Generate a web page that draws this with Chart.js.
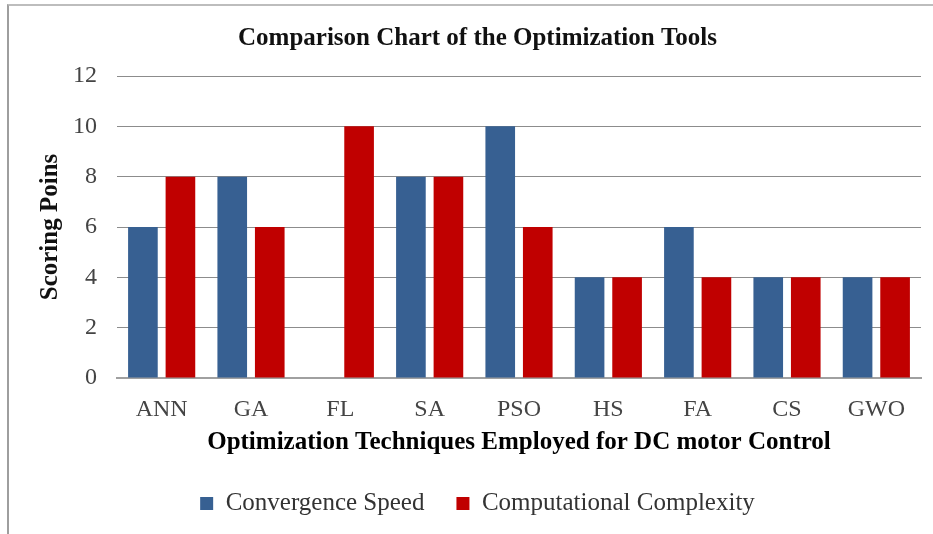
<!DOCTYPE html>
<html lang="en">
<head>
  <meta charset="UTF-8">
  <title>Comparison Chart of the Optimization Tools</title>
  <script src="https://cdn.jsdelivr.net/npm/chart.js"></script>
  <style>
    body {
      margin: 0;
      background: #FFFFFF;
    }

    .frame {
      position: absolute;
      left: 7px;
      top: 4px;
      width: 926px;
      height: 530px;
      border-top: 2px solid #BDBDBD;
      border-left: 2px solid #9E9E9E;
    }

    .chart-box {
      position: absolute;
      left: 0;
      top: 0;
      width: 933px;
      height: 534px;
    }
  </style>
</head>
<body>
  <div class="frame"></div>
  <div class="chart-box"><canvas id="chart"></canvas></div>

  <script>
    const categories = ['ANN', 'GA', 'FL', 'SA', 'PSO', 'HS', 'FA', 'CS', 'GWO'];
    const convergenceSpeed = [6, 8, 0, 8, 10, 4, 6, 4, 4];
    const computationalComplexity = [8, 6, 10, 8, 6, 4, 4, 4, 4];
    const yTicks = [0, 2, 4, 6, 8, 10, 12];

    const serif = "'Liberation Serif', 'Times New Roman', serif";

    new Chart(document.getElementById('chart'), {
      type: 'bar',
      data: {
        labels: categories,
        datasets: [
          {
            label: 'Convergence Speed',
            data: convergenceSpeed,
            backgroundColor: '#376092',
            categoryPercentage: 0.84,
            barPercentage: 0.79
          },
          {
            label: 'Computational Complexity',
            data: computationalComplexity,
            backgroundColor: '#C00000',
            categoryPercentage: 0.84,
            barPercentage: 0.79
          }
        ]
      },
      options: {
        responsive: true,
        maintainAspectRatio: false,
        animation: false,
        layout: {
          padding: { left: 34, right: 12, top: 10, bottom: 8 }
        },
        plugins: {
          title: {
            display: true,
            text: 'Comparison Chart of the Optimization Tools',
            color: '#111',
            font: { family: serif, size: 25, weight: 'bold' },
            padding: { top: 14, bottom: 22 }
          },
          legend: {
            position: 'bottom',
            labels: {
              color: '#333',
              font: { family: serif, size: 25 },
              boxWidth: 13,
              boxHeight: 13,
              padding: 32
            }
          },
          tooltip: { enabled: false }
        },
        scales: {
          x: {
            afterFit: (axis) => { axis.height = 81; },
            grid: { display: false },
            border: { display: true, color: '#A0A0A0', width: 2 },
            ticks: {
              color: '#444',
              font: { family: serif, size: 24 },
              padding: 9
            },
            title: {
              display: true,
              text: 'Optimization Techniques Employed for DC motor Control',
              color: '#000',
              font: { family: serif, size: 25, weight: 'bold' },
              padding: { top: 4, bottom: 1 }
            }
          },
          y: {
            min: 0,
            max: 12,
            afterBuildTicks: (axis) => {
              axis.ticks = yTicks.map(v => ({ value: v }));
            },
            afterFit: (axis) => { axis.width = 83; },
            grid: { color: '#8C8C8C', lineWidth: 1, drawTicks: false },
            border: { display: false },
            ticks: {
              color: '#444',
              font: { family: serif, size: 24 },
              padding: 20
            },
            title: {
              display: true,
              text: 'Scoring Poins',
              color: '#111',
              font: { family: serif, size: 25, weight: 'bold' },
              padding: { top: 2, bottom: 10 }
            }
          }
        }
      }
    });
  </script>
</body>
</html>
